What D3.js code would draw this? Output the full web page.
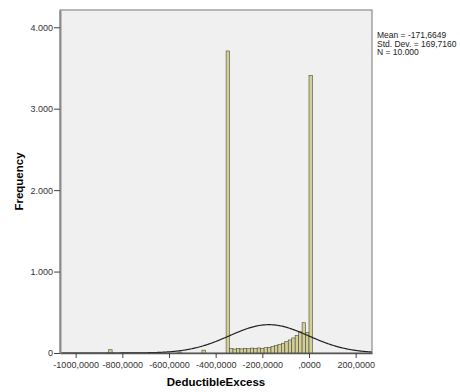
<!DOCTYPE html>
<html>
<head>
<meta charset="utf-8">
<script src="https://cdn.jsdelivr.net/npm/d3@7"></script>
<style>
  html, body { margin: 0; padding: 0; background: #fff; }
  svg { display: block; font-family: "Liberation Sans", Arial, sans-serif; }
</style>
</head>
<body>
<svg id="chart" width="460" height="392"></svg>
<script>
// histogram bins: lower edge and frequency
const binWidth = 14.8;
const binStarts = [-858.4, -562.4, -458.8, -355.2,
  -340.4, -325.6, -310.8, -296.0, -281.2, -266.4, -251.6, -236.8, -222.0, -207.2,
  -192.4, -177.6, -162.8, -148.0, -133.2, -118.4, -103.6, -88.8, -74.0, -59.2,
  -44.4, -29.6, -14.8, 0];
const binCounts = [40, 12, 35, 3709,
  55, 48, 55, 50, 58, 52, 60, 55, 62, 58,
  65, 70, 78, 90, 105, 120, 140, 160, 185, 215,
  260, 372, 250, 3406];

const xTicks = [-1000, -800, -600, -400, -200, 0, 200];
const xTickLabels = ['-1000,0000', '-800,0000', '-600,0000', '-400,0000', '-200,0000', ',0000', '200,0000'];
const yTicks = [0, 1000, 2000, 3000, 4000];
const yTickLabels = ['0', '1.000', '2.000', '3.000', '4.000'];

const stats = { mean: -171.6649, sd: 169.716, n: 10000 };
const statLines = ['Mean = -171,6649', 'Std. Dev. = 169,7160', 'N = 10.000'];

const bins = binStarts.map((s, i) => ({ x0: s, x1: s + binWidth, count: binCounts[i] }));

const plot = { left: 60, top: 10, right: 372, bottom: 353 };
const svg = d3.select('#chart');

const x = d3.scaleLinear().domain([-1067, 270]).range([plot.left, plot.right]);
const y = d3.scaleLinear().domain([0, 4212]).range([plot.bottom, plot.top]);

// plot background
svg.append('rect')
  .attr('x', plot.left).attr('y', plot.top)
  .attr('width', plot.right - plot.left).attr('height', plot.bottom - plot.top)
  .attr('fill', '#f0f0f0')
  .attr('stroke', '#8c8c8c').attr('stroke-width', 1.2);

// bars
svg.append('g').selectAll('rect')
  .data(bins)
  .join('rect')
  .attr('x', d => x(d.x0))
  .attr('y', d => y(d.count))
  .attr('width', d => x(d.x1) - x(d.x0))
  .attr('height', d => y(0) - y(d.count))
  .attr('fill', '#d4cf96')
  .attr('stroke', '#4a4a3a')
  .attr('stroke-width', 0.6);

// normal curve
const pdf = v => Math.exp(-0.5 * Math.pow((v - stats.mean) / stats.sd, 2)) / (stats.sd * Math.sqrt(2 * Math.PI));
const curvePts = d3.range(x.domain()[0], x.domain()[1] + 1, 4);
const line = d3.line()
  .x(v => x(v))
  .y(v => y(stats.n * binWidth * pdf(v)))
  .curve(d3.curveBasis);
svg.append('path')
  .datum(curvePts)
  .attr('fill', 'none')
  .attr('stroke', '#222')
  .attr('stroke-width', 1.2)
  .attr('d', line);

// x axis
const xAxis = svg.append('g')
  .attr('transform', `translate(0,${plot.bottom})`)
  .call(d3.axisBottom(x).tickValues(xTicks).tickSize(5).tickSizeOuter(0)
    .tickFormat((d, i) => xTickLabels[i]));
xAxis.select('.domain').attr('stroke', '#555').attr('stroke-width', 1.6);
xAxis.selectAll('.tick line').attr('stroke', '#444');
xAxis.selectAll('.tick text').attr('fill', '#333').attr('font-size', 9).attr('dy', '0.75em');

// y axis
const yAxis = svg.append('g')
  .attr('transform', `translate(${plot.left},0)`)
  .call(d3.axisLeft(y).tickValues(yTicks).tickSize(6).tickSizeOuter(0)
    .tickFormat((d, i) => yTickLabels[i]));
yAxis.select('.domain').attr('stroke', '#8c8c8c').attr('stroke-width', 2);
yAxis.selectAll('.tick line').attr('stroke', '#444');
yAxis.selectAll('.tick text').attr('fill', '#333').attr('font-size', 9).attr('x', -7);

// axis titles
svg.append('text')
  .attr('x', (plot.left + plot.right) / 2).attr('y', 386)
  .attr('text-anchor', 'middle')
  .attr('font-size', 11.5).attr('font-weight', 'bold')
  .text('DeductibleExcess');

svg.append('text')
  .attr('transform', `translate(23,${(plot.top + plot.bottom) / 2}) rotate(-90)`)
  .attr('text-anchor', 'middle')
  .attr('font-size', 11.5).attr('font-weight', 'bold')
  .text('Frequency');

// stats box
svg.append('g').selectAll('text')
  .data(statLines)
  .join('text')
  .attr('x', 377)
  .attr('y', (d, i) => 38 + i * 8.5)
  .attr('font-size', 8.5)
  .attr('fill', '#222')
  .text(d => d);
</script>
</body>
</html>
